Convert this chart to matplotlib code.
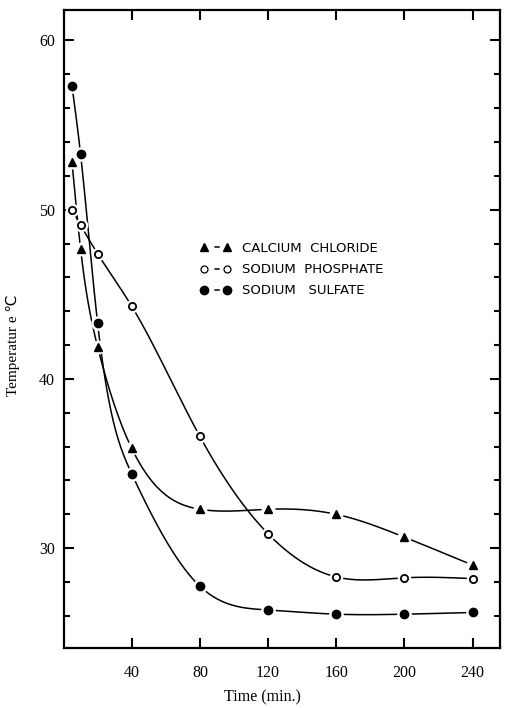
import matplotlib
matplotlib.use("Agg")
import matplotlib.pyplot as plt
from matplotlib.lines import Line2D
from matplotlib.ticker import MultipleLocator
import numpy as np

plt.rcParams['font.family'] = ['Liberation Serif', 'DejaVu Sans']

# sampling times (min.)
time = [5, 10, 20, 40, 80, 120, 160, 200, 240]

# temperature readings (deg C)
calcium_chloride = [52.8, 47.7, 41.9, 35.9, 32.3, 32.3, 32.0, 30.65, 29.0]
sodium_phosphate = [50.0, 49.1, 47.4, 44.3, 36.6, 30.85, 28.3, 28.25, 28.2]
sodium_sulfate = [57.3, 53.3, 43.3, 34.4, 27.75, 26.35, 26.1, 26.1, 26.2]

labels = ['CALCIUM  CHLORIDE', 'SODIUM  PHOSPHATE', 'SODIUM   SULFATE']

x_ticks = [40, 80, 120, 160, 200, 240]
y_ticks = [30, 40, 50, 60]


def smooth(x, y, n=400):
    # natural cubic spline through the measured points (drawing only)
    x = np.asarray(x, float)
    y = np.asarray(y, float)
    k = len(x)
    h = np.diff(x)
    A = np.zeros((k, k))
    b = np.zeros(k)
    A[0, 0] = 1
    A[-1, -1] = 1
    for i in range(1, k - 1):
        A[i, i - 1] = h[i - 1]
        A[i, i] = 2 * (h[i - 1] + h[i])
        A[i, i + 1] = h[i]
        b[i] = 3 * ((y[i + 1] - y[i]) / h[i] - (y[i] - y[i - 1]) / h[i - 1])
    c = np.linalg.solve(A, b)
    xs = np.linspace(x[0], x[-1], n)
    ys = np.empty_like(xs)
    for j, xv in enumerate(xs):
        i = min(np.searchsorted(x, xv, side='right') - 1, k - 2)
        d = xv - x[i]
        bi = (y[i + 1] - y[i]) / h[i] - h[i] * (2 * c[i] + c[i + 1]) / 3
        di = (c[i + 1] - c[i]) / (3 * h[i])
        ys[j] = y[i] + bi * d + c[i] * d ** 2 + di * d ** 3
    return xs, ys


fig = plt.figure(figsize=(5.06, 7.08), dpi=100)
ax = fig.add_axes([0.1255, 0.0847, 0.8625, 0.9012])

series = [
    (calcium_chloride, dict(marker='^', ms=5.5, mfc='black', mec='black')),
    (sodium_phosphate, dict(marker='o', ms=5.2, mfc='white', mec='black', mew=1.3)),
    (sodium_sulfate, dict(marker='o', ms=6, mfc='black', mec='black')),
]

for vals, st in series:
    xs, ys = smooth(time, vals)
    ax.plot(xs, ys, color='black', lw=1.1, zorder=2)
    ax.plot(time, vals, linestyle='none', marker='o', ms=st['ms'] + 3.5,
            mfc='white', mec='white', zorder=3)
    ax.plot(time, vals, linestyle='none', zorder=4, **st)

ax.set_xlim(0, 256)
ax.set_ylim(24.1, 61.8)
ax.set_xticks(x_ticks)
ax.set_yticks(y_ticks)
ax.yaxis.set_minor_locator(MultipleLocator(2))
ax.tick_params(which='both', direction='in', top=True, right=True, width=1.5)
ax.tick_params(which='major', length=7, labelsize=11.5)
ax.tick_params(axis='x', which='major', pad=12)
ax.tick_params(axis='y', which='major', pad=6)
ax.tick_params(which='minor', length=4)
for s in ax.spines.values():
    s.set_linewidth(1.6)

ax.set_xlabel('Time (min.)', fontsize=11.5)
ax.xaxis.set_label_coords(0.455, -0.065)
ax.set_ylabel('Temperatur e \u2103', fontsize=11)
ax.yaxis.set_label_coords(-0.1, 0.475)

# short dash centred between the two legend markers
dash = (0, (0, 6.8, 3.5, 100))
handles = [
    Line2D([], [], color='black', lw=1.1, linestyle=dash, marker='^', ms=6,
           mfc='black', mec='black'),
    Line2D([], [], color='black', lw=1.1, linestyle=dash, marker='o', ms=5,
           mfc='white', mec='black', mew=0.9),
    Line2D([], [], color='black', lw=1.1, linestyle=dash, marker='o', ms=6,
           mfc='black', mec='black'),
]
leg = ax.legend(handles, labels, loc='upper left', bbox_to_anchor=(0.285, 0.655),
                frameon=False, numpoints=2, handlelength=2.4, handletextpad=0.8,
                labelspacing=0.62, prop={'family': 'DejaVu Sans', 'size': 9.5})

fig.savefig('out.png', dpi=100)
